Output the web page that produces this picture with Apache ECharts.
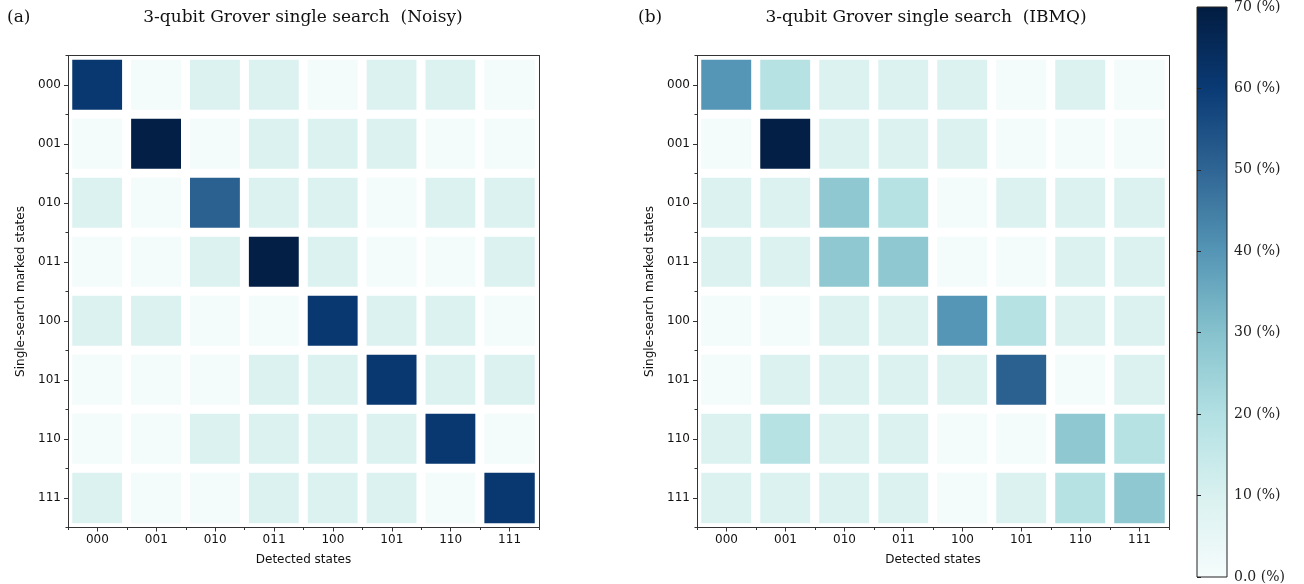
<!DOCTYPE html>
<html>
<head>
<meta charset="utf-8">
<script src="https://cdn.jsdelivr.net/npm/echarts@6/dist/echarts.min.js"></script>
<style>
html,body{margin:0;padding:0;background:#fff;}
#chart{width:1304px;height:584px;}
</style>
</head>
<body>
<div id="chart"></div>
<script>
// ---- data ----
const detectedStates = ['000','001','010','011','100','101','110','111'];
const markedStates   = ['000','001','010','011','100','101','110','111'];
// rows = single-search marked states, columns = detected states (%)
const noisyRow000 = [61, 1, 9, 9, 1, 9, 9, 1];
const noisyRow001 = [1, 69, 1, 9, 9, 9, 1, 1];
const noisyRow010 = [9, 1, 51, 9, 9, 1, 9, 9];
const noisyRow011 = [1, 1, 9, 69, 9, 1, 1, 9];
const noisyRow100 = [9, 9, 1, 1, 61, 9, 9, 1];
const noisyRow101 = [1, 1, 1, 9, 9, 61, 9, 9];
const noisyRow110 = [1, 1, 9, 9, 9, 9, 61, 1];
const noisyRow111 = [9, 1, 1, 9, 9, 9, 1, 61];

const ibmqRow000 = [40, 19, 9, 9, 9, 1, 9, 1];
const ibmqRow001 = [1, 69, 9, 9, 9, 1, 1, 1];
const ibmqRow010 = [9, 9, 28, 19, 1, 9, 9, 9];
const ibmqRow011 = [9, 9, 28, 28, 1, 1, 9, 9];
const ibmqRow100 = [1, 1, 9, 9, 40, 19, 9, 9];
const ibmqRow101 = [1, 9, 9, 9, 9, 51, 1, 9];
const ibmqRow110 = [9, 19, 9, 9, 1, 1, 28, 19];
const ibmqRow111 = [9, 9, 9, 9, 1, 9, 19, 28];

const colorbarTicks = [0, 10, 20, 30, 40, 50, 60, 70];
const cmapColors = ['#f6fcfc', '#d9f1f0', '#b2e0e3', '#86c2cd', '#5595b5', '#2f6594', '#0a3a74', '#021c40'];

const noisyRows = [noisyRow000, noisyRow001, noisyRow010, noisyRow011, noisyRow100, noisyRow101, noisyRow110, noisyRow111];
const ibmqRows = [ibmqRow000, ibmqRow001, ibmqRow010, ibmqRow011, ibmqRow100, ibmqRow101, ibmqRow110, ibmqRow111];

function toCells(rows) {
  const out = [];
  rows.forEach((row, r) => row.forEach((v, c) => out.push([c, r, v])));
  return out;
}

const chart = echarts.init(document.getElementById('chart'), null, {renderer: 'canvas'});

const tickFont = {fontFamily: 'DejaVu Sans', fontSize: 12, color: '#111'};
const serifFont = 'DejaVu Serif';
const lineCol = '#333';

function axesFor(gi) {
  const xs = [
    {
      type: 'category', gridIndex: gi, data: detectedStates, position: 'bottom', z: 10,
      axisLine: {show: true, lineStyle: {color: lineCol, width: 1}},
      axisTick: {show: true, alignWithLabel: true, length: 4, lineStyle: {color: lineCol}},
      axisLabel: Object.assign({margin: 6}, tickFont),
      name: 'Detected states', nameLocation: 'middle', nameGap: 26,
      nameTextStyle: tickFont, splitLine: {show: false}
    },
    {
      type: 'category', gridIndex: gi, data: detectedStates, position: 'bottom', z: 10,
      axisLine: {show: false}, axisLabel: {show: false},
      axisTick: {show: true, alignWithLabel: false, length: 2.5, lineStyle: {color: lineCol}},
      splitLine: {show: false}
    },
    {
      type: 'category', gridIndex: gi, data: detectedStates, position: 'top', z: 10,
      axisLine: {show: true, lineStyle: {color: lineCol, width: 1}},
      axisTick: {show: false}, axisLabel: {show: false}, splitLine: {show: false}
    }
  ];
  const ys = [
    {
      type: 'category', gridIndex: gi, data: markedStates, inverse: true, position: 'left', z: 10,
      axisLine: {show: true, lineStyle: {color: lineCol, width: 1}},
      axisTick: {show: true, alignWithLabel: true, length: 4, lineStyle: {color: lineCol}},
      axisLabel: Object.assign({margin: 7}, tickFont),
      name: 'Single-search marked states', nameLocation: 'middle', nameGap: 41, nameRotate: 90,
      nameTextStyle: tickFont, splitLine: {show: false}
    },
    {
      type: 'category', gridIndex: gi, data: markedStates, inverse: true, position: 'left', z: 10,
      axisLine: {show: false}, axisLabel: {show: false},
      axisTick: {show: true, alignWithLabel: false, length: 2.5, lineStyle: {color: lineCol}},
      splitLine: {show: false}
    },
    {
      type: 'category', gridIndex: gi, data: markedStates, inverse: true, position: 'right', z: 10,
      axisLine: {show: true, lineStyle: {color: lineCol, width: 1}},
      axisTick: {show: false}, axisLabel: {show: false}, splitLine: {show: false}
    }
  ];
  return {xs, ys};
}

const a0 = axesFor(0), a1 = axesFor(1);
const xAxes = [...a0.xs, ...a1.xs];
const yAxes = [...a0.ys, ...a1.ys];
xAxes.push({type: 'value', gridIndex: 2, min: 0, max: 1, show: false});
yAxes.push({
  type: 'value', gridIndex: 2, min: 0, max: 70, interval: 10, position: 'right', z: 10,
  axisLine: {show: false},
  axisTick: {show: true, inside: false, length: 4, lineStyle: {color: '#222'}},
  axisLabel: {margin: 7, fontFamily: serifFont, fontSize: 14, color: '#222',
    formatter: v => (v === 0 ? '0.0' : String(v)) + ' (%)'},
  splitLine: {show: false}
});

const cbStops = cmapColors.map((c, i) => ({offset: colorbarTicks[i] / 70, color: c}));
const titleFont = '17px "DejaVu Serif"';

const option = {
  animation: false,
  backgroundColor: '#fff',
  grid: [
    {left: 68, top: 55.5, width: 471, height: 472},
    {left: 697, top: 55.5, width: 472, height: 472},
    {left: 1197, top: 3.5, width: 30, height: 574}
  ],
  xAxis: xAxes,
  yAxis: yAxes,
  visualMap: {
    type: 'continuous', show: false, min: 0, max: 70, seriesIndex: [0, 1],
    inRange: {color: cmapColors}
  },
  graphic: [
    {type: 'text', x: 7, y: 18, style: {text: '(a)', font: titleFont, fill: '#111', textVerticalAlign: 'middle'}},
    {type: 'text', x: 303, y: 18, style: {text: '3-qubit Grover single search  (Noisy)', font: titleFont, fill: '#111', textAlign: 'center', textVerticalAlign: 'middle'}},
    {type: 'text', x: 638, y: 18, style: {text: '(b)', font: titleFont, fill: '#111', textVerticalAlign: 'middle'}},
    {type: 'text', x: 926, y: 18, style: {text: '3-qubit Grover single search  (IBMQ)', font: titleFont, fill: '#111', textAlign: 'center', textVerticalAlign: 'middle'}}
  ],
  series: [
    {
      type: 'heatmap', xAxisIndex: 0, yAxisIndex: 0, data: toCells(noisyRows),
      itemStyle: {borderColor: '#fff', borderWidth: 9},
      emphasis: {disabled: true}, label: {show: false}
    },
    {
      type: 'heatmap', xAxisIndex: 3, yAxisIndex: 3, data: toCells(ibmqRows),
      itemStyle: {borderColor: '#fff', borderWidth: 9},
      emphasis: {disabled: true}, label: {show: false}
    },
    {
      type: 'custom', xAxisIndex: 6, yAxisIndex: 6, data: [[0, colorbarTicks[colorbarTicks.length - 1]]],
      silent: true,
      renderItem: function (params, api) {
        const p0 = api.coord([0, 0]);
        const p1 = api.coord([1, api.value(1)]);
        return {
          type: 'rect',
          shape: {x: p0[0], y: p1[1], width: p1[0] - p0[0], height: p0[1] - p1[1]},
          style: {fill: new echarts.graphic.LinearGradient(0, 1, 0, 0, cbStops), stroke: '#222', lineWidth: 1}
        };
      }
    }
  ]
};
chart.setOption(option);
</script>
</body>
</html>
